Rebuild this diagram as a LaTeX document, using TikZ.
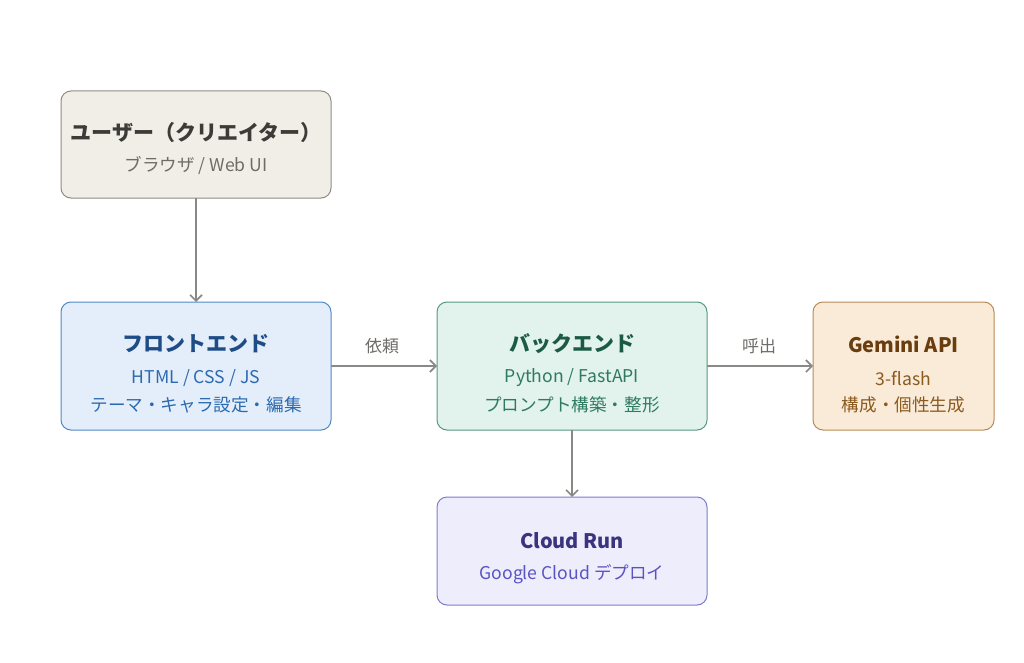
\documentclass[tikz,border=0pt]{standalone}
\usepackage{fontspec}
\setmainfont{Noto Sans CJK JP}
\usetikzlibrary{arrows.meta}
\definecolor{arr}{HTML}{8A8985}
\definecolor{ufill}{HTML}{F1EEE8}\definecolor{udraw}{HTML}{8F8C85}\definecolor{utitle}{HTML}{3C3B38}\definecolor{usub}{HTML}{6E6C68}
\definecolor{ffill}{HTML}{E4EEFA}\definecolor{fdraw}{HTML}{4F88C6}\definecolor{ftitle}{HTML}{1E4C86}\definecolor{fsub}{HTML}{2C6AB0}
\definecolor{bfill}{HTML}{E1F3EC}\definecolor{bdraw}{HTML}{55997F}\definecolor{btitle}{HTML}{1B5A44}\definecolor{bsub}{HTML}{2F7A60}
\definecolor{gfill}{HTML}{FAEBD8}\definecolor{gdraw}{HTML}{B98A55}\definecolor{gtitle}{HTML}{6A3D0F}\definecolor{gsub}{HTML}{8B5A1F}
\definecolor{cfill}{HTML}{EEEDFB}\definecolor{cdraw}{HTML}{8079D2}\definecolor{ctitle}{HTML}{3A3380}\definecolor{csub}{HTML}{5A53C2}
\tikzset{
  box/.style={rounded corners=10pt, line width=1pt},
  ttl/.style={font=\fontsize{21}{24}\selectfont\bfseries, inner sep=0pt},
  ttllat/.style={font=\fontsize{20}{24}\selectfont\bfseries, inner sep=0pt},
  sub/.style={font=\fontsize{17.6}{20}\selectfont, inner sep=0pt},
  lbl/.style={font=\fontsize{17}{20}\selectfont, text=usub, inner sep=0pt},
  conn/.style={draw=arr, line width=2pt, -{Straight Barb[length=6pt,width=12pt,line width=1.6pt]}},
}
\begin{document}
\begin{tikzpicture}[x=1pt,y=-1pt]
\useasboundingbox (0,0) rectangle (1024,663);
% boxes
\draw[box, fill=ufill, draw=udraw] (61,91) rectangle (331,198);
\node[ttl, text=utitle] (ut) at (196,133) {ユーザー（クリエイター）};
\node[sub, text=usub] (us) at (196,166) {ブラウザ / Web UI};
\coordinate (ub) at (196,198);

\draw[box, fill=ffill, draw=fdraw] (61,302) rectangle (331,430);
\node[ttl, text=ftitle] (ft) at (196,344) {フロントエンド};
\node[sub, text=fsub] (fs1) at (196,378) {HTML / CSS / JS};
\node[sub, text=fsub] (fs2) at (196,405) {テーマ・キャラ設定・編集};
\coordinate (ftop) at (196,302);
\coordinate (fr) at (331,366);

\draw[box, fill=bfill, draw=bdraw] (437,302) rectangle (707,430);
\node[ttl, text=btitle] (bt) at (572,344) {バックエンド};
\node[sub, text=bsub] (bs1) at (572,378) {Python / FastAPI};
\node[sub, text=bsub] (bs2) at (572,405) {プロンプト構築・整形};
\coordinate (bl) at (437,366);
\coordinate (br) at (707,366);
\coordinate (bb) at (572,430);

\draw[box, fill=gfill, draw=gdraw] (813,302) rectangle (994,430);
\node[ttllat, text=gtitle] (gt) at (903.5,344) {Gemini API};
\node[sub, text=gsub] (gs1) at (903.5,378) {3-flash};
\node[sub, text=gsub] (gs2) at (903.5,405) {構成・個性生成};
\coordinate (gl) at (813,366);

\draw[box, fill=cfill, draw=cdraw] (437,497) rectangle (707,605);
\node[ttllat, text=ctitle] (ct) at (572,541) {Cloud Run};
\node[sub, text=csub] (cs) at (572,574) {Google Cloud デプロイ};
\coordinate (ctop) at (572,497);

% connectors
\draw[conn] (ub) -- (ftop);
\draw[conn] (fr) -- (bl);
\draw[conn] (br) -- (gl);
\draw[conn] (bb) -- (ctop);
\node[lbl] (l1) at (382,346) {依頼};
\node[lbl] (l2) at (759,346) {呼出};
\end{tikzpicture}
\end{document}
